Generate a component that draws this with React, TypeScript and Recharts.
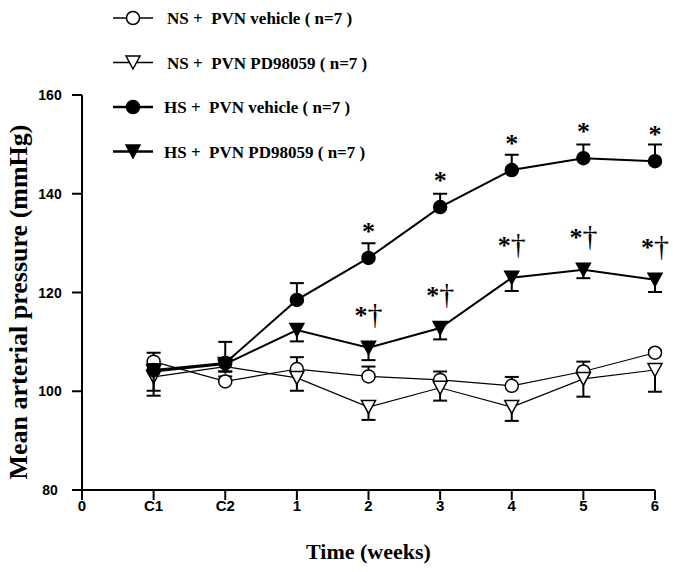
import React from 'react';
import { LineChart, Line, XAxis, YAxis, LabelList } from 'recharts';

// ---- data ----
const times = ['0', 'C1', 'C2', '1', '2', '3', '4', '5', '6'];
const yTicks = [80, 100, 120, 140, 160];

const nsVeh = [null, 106.0, 102.0, 104.5, 103.0, 102.3, 101.1, 104.0, 107.8];
const nsVehErr = [null, 1.8, 1.0, 2.4, 2.0, 1.7, 1.8, 2.0, 0.5];

const nsPd = [null, 102.9, 105.0, 102.7, 96.8, 100.7, 96.8, 102.5, 104.3];
const nsPdErr = [null, 3.8, 1.0, 2.6, 2.6, 2.6, 2.8, 3.6, 4.4];

const hsVeh = [null, 104.3, 105.7, 118.5, 127.0, 137.3, 144.8, 147.2, 146.6];
const hsVehErr = [null, 1.2, 4.3, 3.4, 3.0, 2.7, 3.1, 2.8, 3.4];

const hsPd = [null, 104.0, 105.5, 112.4, 108.8, 112.8, 123.0, 124.6, 122.6];
const hsPdErr = [null, 3.9, 1.5, 2.3, 2.5, 2.3, 2.7, 1.7, 2.5];

const hsVehSig = ['', '', '', '', '*', '*', '*', '*', '*'];
const hsPdSig = ['', '', '', '', '*†', '*†', '*†', '*†', '*†'];

const legendLabels = [
  'NS +  PVN vehicle ( n=7 )',
  'NS +  PVN PD98059 ( n=7 )',
  'HS +  PVN vehicle ( n=7 )',
  'HS +  PVN PD98059 ( n=7 )',
];

const xTitle = 'Time (weeks)';
const yTitle = 'Mean arterial pressure (mmHg)';

// ---- table ----
const data = times.map((t, i) => ({
  time: t,
  nsVeh: nsVeh[i],
  nsVehErr: nsVehErr[i],
  nsPd: nsPd[i],
  nsPdErr: nsPdErr[i],
  hsVeh: hsVeh[i],
  hsVehErr: hsVehErr[i],
  hsPd: hsPd[i],
  hsPdErr: hsPdErr[i],
  hsVehSig: hsVehSig[i],
  hsPdSig: hsPdSig[i],
}));

const SERIF = '"Liberation Serif", "Times New Roman", serif';
const SANS = '"Liberation Sans", Arial, sans-serif';

type Kind = 'openCircle' | 'openTri' | 'filledCircle' | 'filledTri';

function Marker({ cx, cy, kind }: { cx: number; cy: number; kind: Kind }) {
  const filled = kind === 'filledCircle' || kind === 'filledTri';
  const fill = filled ? '#000' : '#fff';
  if (kind === 'openCircle' || kind === 'filledCircle') {
    return <circle cx={cx} cy={cy} r={6.5} fill={fill} stroke="#000" strokeWidth={1.5} />;
  }
  const w = 7;
  const h = 6.5;
  return (
    <path
      d={`M${cx - w},${cy - h} L${cx + w},${cy - h} L${cx},${cy + h} Z`}
      fill={fill}
      stroke="#000"
      strokeWidth={1.5}
      strokeLinejoin="miter"
    />
  );
}

type Series = { key: string; err: string; kind: Kind; width: number; dir: 1 | -1 };

const series: Series[] = [
  { key: 'nsVeh', err: 'nsVehErr', kind: 'openCircle', width: 1.2, dir: 1 },
  { key: 'nsPd', err: 'nsPdErr', kind: 'openTri', width: 1.2, dir: -1 },
  { key: 'hsVeh', err: 'hsVehErr', kind: 'filledCircle', width: 2, dir: 1 },
  { key: 'hsPd', err: 'hsPdErr', kind: 'filledTri', width: 2, dir: -1 },
];

// pixels per data unit, derived from the points the library already scaled
function pxPerUnit(points: any[] | undefined): number | null {
  if (!points) return null;
  const valid = points.filter(
    (p) => p && typeof p.value === 'number' && typeof p.y === 'number' && !isNaN(p.y)
  );
  for (let i = 0; i < valid.length; i++) {
    for (let j = i + 1; j < valid.length; j++) {
      const dv = valid[i].value - valid[j].value;
      if (Math.abs(dv) > 1) return (valid[i].y - valid[j].y) / dv;
    }
  }
  return null;
}

const renderDot = (s: Series) => (props: any) => {
  const { cx, cy, index, value, payload, points } = props;
  if (value == null || cy == null || isNaN(cy)) return <g key={`d-${index}`} />;
  const k = pxPerUnit(points);
  const e = payload ? payload[s.err] : null;
  let bar = null;
  if (k != null && e != null) {
    const endY = cy + s.dir * e * k;
    bar = (
      <g stroke="#000" strokeWidth={2}>
        <line x1={cx} x2={cx} y1={cy} y2={endY} />
        <line x1={cx - 7} x2={cx + 7} y1={endY} y2={endY} />
      </g>
    );
  }
  return (
    <g key={`d-${index}`}>
      {bar}
      <Marker cx={cx} cy={cy} kind={s.kind} />
    </g>
  );
};

function ChartLegend() {
  return (
    <g>
      {series.map((s, i) => {
        const y = 18 + i * 44.5;
        return (
          <g key={s.key}>
            <line x1={113} x2={153} y1={y} y2={y} stroke="#000" strokeWidth={s.width + 0.3} />
            <Marker cx={133} cy={y} kind={s.kind} />
            <text
              x={i < 2 ? 167 : 164}
              y={y + 6}
              fontFamily={SERIF}
              fontWeight="bold"
              fontSize={17}
              fill="#000"
              style={{ whiteSpace: 'pre' }}
            >
              {legendLabels[i]}
            </text>
          </g>
        );
      })}
    </g>
  );
}

const YTick = (props: any) => {
  const { x, y, payload } = props;
  return (
    <text x={x - 16} y={y + 5} textAnchor="middle" fontFamily={SANS} fontWeight="bold" fontSize={14} fill="#000">
      {payload.value}
    </text>
  );
};

const XTick = (props: any) => {
  const { x, y, payload } = props;
  return (
    <text x={x} y={y + 11} textAnchor="middle" fontFamily={SANS} fontWeight="bold" fontSize={15} fill="#000">
      {payload.value}
    </text>
  );
};

const sigLabel = (offset: number) => (props: any) => {
  const { x, y, value, index } = props;
  if (!value) return <g key={`s-${index}`} />;
  const hasDagger = String(value).includes('†');
  return (
    <text
      key={`s-${index}`}
      x={x}
      y={y - offset}
      textAnchor="middle"
      fontFamily={SERIF}
      fontWeight="bold"
      fontSize={26}
      fill="#000"
    >
      {hasDagger ? (
        <>
          <tspan>*</tspan>
          <tspan fontSize={30} fontWeight="normal">†</tspan>
        </>
      ) : (
        value
      )}
    </text>
  );
};

export default function App() {
  return (
    <div style={{ position: 'absolute', left: 0, top: 0, background: '#fff' }}>
      <LineChart
        width={675}
        height={572}
        data={data}
        margin={{ top: 95, right: 20, bottom: 0, left: 0 }}
      >
        <XAxis
          dataKey="time"
          scale="point"
          padding={{ left: 0, right: 0 }}
          height={82}
          tickSize={10}
          tickMargin={0}
          stroke="#000"
          strokeWidth={2}
          tick={<XTick />}
          interval={0}
          label={(p: any) => {
            const vb = p.viewBox || {};
            return (
              <text
                x={(vb.x ?? 82) + (vb.width ?? 573) / 2}
                y={(vb.y ?? 490) + 69}
                textAnchor="middle"
                fontFamily={SERIF}
                fontWeight="bold"
                fontSize={22}
                fill="#000"
              >
                {xTitle}
              </text>
            );
          }}
        />
        <YAxis
          domain={[80, 160]}
          ticks={yTicks}
          width={82}
          tickSize={10}
          tickMargin={6}
          stroke="#000"
          strokeWidth={2}
          tick={<YTick />}
          allowDataOverflow
        />
        {series.map((s) => (
          <Line
            key={s.key}
            dataKey={s.key}
            stroke="#000"
            strokeWidth={s.width}
            isAnimationActive={false}
            dot={false}
            activeDot={false}
            type="linear"
          >
            {s.key === 'hsVeh' && <LabelList dataKey="hsVehSig" content={sigLabel(18)} />}
            {s.key === 'hsPd' && <LabelList dataKey="hsPdSig" content={sigLabel(24)} />}
          </Line>
        ))}
        {series.map((s) => (
          <Line
            key={`${s.key}-markers`}
            dataKey={s.key}
            stroke="none"
            isAnimationActive={false}
            dot={renderDot(s)}
            activeDot={false}
            legendType="none"
            type="linear"
          />
        ))}
        <text
          x={27}
          y={302}
          transform="rotate(-90 27 302)"
          textAnchor="middle"
          fontFamily={SERIF}
          fontWeight="bold"
          fontSize={26}
          fill="#000"
        >
          {yTitle}
        </text>
        <ChartLegend />
      </LineChart>
    </div>
  );
}
